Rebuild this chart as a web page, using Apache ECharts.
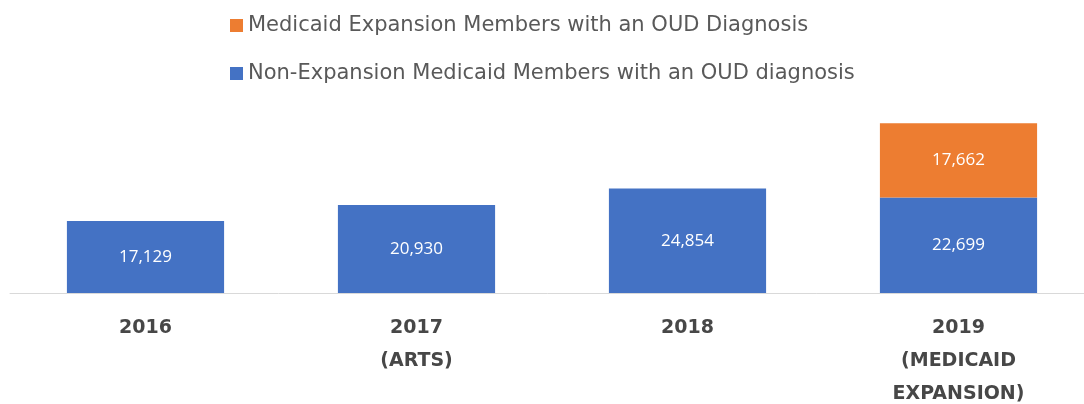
<!DOCTYPE html>
<html>
<head>
<meta charset="utf-8">
<script src="https://cdn.jsdelivr.net/npm/echarts@6/dist/echarts.min.js"></script>
<style>
  html, body { margin: 0; padding: 0; background: #fff; }
  #chart { width: 1084px; height: 404px; }
</style>
</head>
<body>
<div id="chart"></div>
<script>
const categories = ['2016', '2017\n(ARTS)', '2018', '2019\n(MEDICAID\nEXPANSION)']
const nonExpansion = [17129, 20930, 24854, 22699]
const expansion = [null, null, null, 17662]
const seriesNames = [
  'Medicaid Expansion Members with an OUD Diagnosis',
  'Non-Expansion Medicaid Members with an OUD diagnosis'
]

const chart = echarts.init(document.getElementById('chart'))

// 柱内白色数字
const labelStyle = {
  show: true,
  position: 'inside',
  color: '#ffffff',
  fontSize: 17,
  fontFamily: 'Open Sans',
  formatter: (p) => p.value == null ? '' : p.value.toLocaleString('en-US')
}

const option = {
  animation: false,
  backgroundColor: '#ffffff',
  legend: {
    orient: 'vertical',
    left: 225,
    top: 10,
    itemWidth: 13,
    itemHeight: 13,
    itemGap: 27,
    icon: 'rect',
    data: seriesNames,
    textStyle: { color: '#595959', fontSize: 21, fontFamily: 'DejaVu Sans' }
  },
  grid: {
    left: 10,
    right: -10,
    top: 123,
    bottom: 111,
    outerBoundsMode: 'none'
  },
  xAxis: {
    type: 'category',
    data: categories,
    axisLine: { lineStyle: { color: '#d9d9d9', width: 1 } },
    axisTick: { show: false },
    axisLabel: {
      interval: 0,
      margin: 19,
      color: '#474747',
      fontSize: 19,
      fontWeight: 'bold',
      fontFamily: 'DejaVu Sans',
      lineHeight: 33
    }
  },
  yAxis: {
    type: 'value',
    min: 0,
    max: 40400,
    show: false,
    splitLine: { show: false }
  },
  series: [
    {
      name: seriesNames[1],
      type: 'bar',
      stack: 'total',
      barWidth: '58%',
      data: nonExpansion,
      itemStyle: { color: '#4472C4' },
      label: labelStyle
    },
    {
      name: seriesNames[0],
      type: 'bar',
      stack: 'total',
      barWidth: '58%',
      data: expansion,
      itemStyle: { color: '#ED7D31' },
      label: labelStyle
    }
  ]
}

chart.setOption(option)
</script>
</body>
</html>
